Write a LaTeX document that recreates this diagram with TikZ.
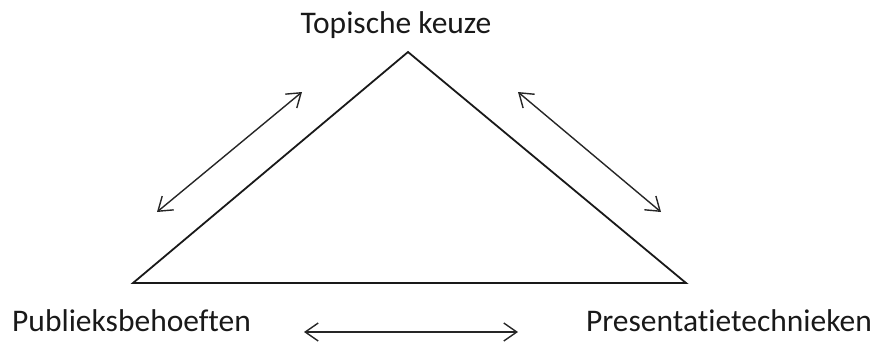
\documentclass[tikz,border=0pt]{standalone}
\usepackage{fontspec}
\setmainfont[Ligatures={NoCommon,NoContextual}]{Carlito}
\usetikzlibrary{arrows.meta}
\tikzset{
  lbl/.style={inner sep=0pt, font=\fontsize{31.5}{36}\selectfont, text=black!90},
  tri/.style={line width=1.8pt, line join=miter, draw=black!90},
  dbl/.style={line width=1.4pt, draw=black!85, {Straight Barb[length=13pt,width=18pt,line width=1.4pt]}-{Straight Barb[length=13pt,width=18pt,line width=1.4pt]}}
}
\begin{document}
\begin{tikzpicture}[x=1pt,y=-1pt]
\useasboundingbox (0,0) rectangle (874,341);
\coordinate (top) at (408,52);
\coordinate (bl) at (133,283);
\coordinate (br) at (686,283);
\draw[tri] (bl) -- (top) -- (br) -- cycle;
\node[lbl, anchor=base] (tk) at (396,33) {Topische keuze};
\node[lbl, anchor=base west] (pb) at (12,331) {Publieksbehoeften};
\node[lbl, anchor=base east] (pt) at (872,331) {Presentatietechnieken};
\coordinate (l1) at (157,212);
\coordinate (l2) at (302,92);
\coordinate (r1) at (518,92);
\coordinate (r2) at (661,212);
\coordinate (b1) at (304,332);
\coordinate (b2) at (518,332);
\draw[dbl] (l1) -- (l2);
\draw[dbl] (r1) -- (r2);
\draw[dbl] (b1) -- (b2);
\end{tikzpicture}
\end{document}
